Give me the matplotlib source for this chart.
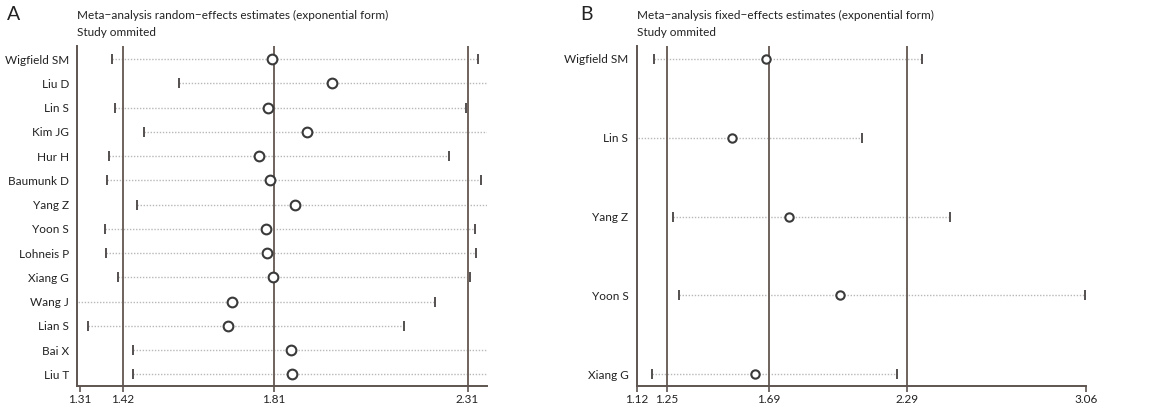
import matplotlib
matplotlib.use("Agg")
import matplotlib.pyplot as plt

plt.rcParams['font.family'] = ['Lato', 'DejaVu Sans']

# Panel A: random-effects, study omitted
studies_a = ["Wigfield SM", "Liu D", "Lin S", "Kim JG", "Hur H", "Baumunk D", "Yang Z",
             "Yoon S", "Lohneis P", "Xiang G", "Wang J", "Lian S", "Bai X", "Liu T"]
est_a = [1.806, 1.960, 1.796, 1.896, 1.771, 1.801, 1.864, 1.789, 1.792, 1.807, 1.702, 1.691, 1.854, 1.856]
lo_a = [1.393, 1.565, 1.400, 1.476, 1.386, 1.380, 1.456, 1.374, 1.376, 1.408, 1.29, 1.331, 1.447, 1.446]
hi_a = [2.338, 2.45, 2.305, 2.42, 2.261, 2.345, 2.42, 2.330, 2.332, 2.317, 2.225, 2.146, 2.45, 2.45]
ref_a = [1.42, 1.81, 2.31]
ticks_a = [1.31, 1.42, 1.81, 2.31]
xlim_a = (1.303, 2.36)

# Panel B: fixed-effects, study omitted
studies_b = ["Wigfield SM", "Lin S", "Yang Z", "Yoon S", "Xiang G"]
est_b = [1.679, 1.533, 1.778, 1.997, 1.632]
lo_b = [1.195, 1.10, 1.277, 1.303, 1.185]
hi_b = [2.352, 2.094, 2.473, 3.055, 2.244]
ref_b = [1.25, 1.69, 2.29]
ticks_b = [1.12, 1.25, 1.69, 2.29, 3.06]
xlim_b = (1.12, 3.06)

W, H = 1158, 409
fig = plt.figure(figsize=(W / 100, H / 100), dpi=100)

spine_col = "#5e5450"
ref_col = "#6f625d"
dot_col = "#b8b8b8"
cap_col = "#555050"
txt_col = "#222222"


def panel(rect, studies, est, lo, hi, ref, ticks, xlim, title, letter, letter_x, msize, top_pad, bot_pad):
    ax = fig.add_axes(rect)
    n = len(studies)
    y = list(range(n))
    for i in range(n):
        ax.plot([lo[i], hi[i]], [y[i], y[i]], linestyle=(0, (1, 1.2)), color=dot_col, lw=1.0, zorder=1)
    for r in ref:
        ax.axvline(r, color=ref_col, lw=1.4, zorder=2)
    ax.plot(lo, y, linestyle="none", marker="|", markersize=7, markeredgewidth=1.4, color=cap_col, zorder=3)
    ax.plot(hi, y, linestyle="none", marker="|", markersize=7, markeredgewidth=1.4, color=cap_col, zorder=3)
    ax.plot(est, y, linestyle="none", marker="o", markersize=msize, markerfacecolor="white",
            markeredgecolor="#3a3a3a", markeredgewidth=1.5, zorder=4)
    ax.set_xlim(*xlim)
    ax.set_ylim(n - 1 + bot_pad, -top_pad)
    ax.set_yticks(y)
    ax.set_yticklabels(studies, fontsize=8.5, color=txt_col)
    ax.tick_params(axis="y", length=0, pad=6)
    ax.set_xticks(ticks)
    ax.set_xticklabels([f"{t:.2f}" for t in ticks], fontsize=8.5, color=txt_col)
    ax.tick_params(axis="x", length=4, width=1.2, color=spine_col, direction="out", pad=2)
    ax.spines["top"].set_visible(False)
    ax.spines["right"].set_visible(False)
    for s in ("left", "bottom"):
        ax.spines[s].set_color(spine_col)
        ax.spines[s].set_linewidth(1.4)
    fig.text(rect[0], 1 - 15 / H, title[0], fontsize=8.5, color=txt_col, va="center", ha="left")
    fig.text(rect[0], 1 - 33 / H, title[1], fontsize=8.5, color=txt_col, va="center", ha="left")
    fig.text(letter_x, 1 - 14 / H, letter, fontsize=14, color=txt_col, va="center", ha="left")
    return ax


bottom = (H - 385.7) / H
height = (385.7 - 46) / H

panel([77.3 / W, bottom, (487 - 77.3) / W, height], studies_a, est_a, lo_a, hi_a, ref_a, ticks_a, xlim_a,
      ["Meta\u2212analysis random\u2212effects estimates (exponential form)", "Study ommited"],
      "A", 7 / W, 7, 0.54, 0.47)

panel([636.7 / W, bottom, (1085.7 - 636.7) / W, height], studies_b, est_b, lo_b, hi_b, ref_b, ticks_b, xlim_b,
      ["Meta\u2212analysis fixed\u2212effects estimates (exponential form)", "Study ommited"],
      "B", 580 / W, 6, 0.161, 0.144)

fig.savefig("out.png", dpi=100)
